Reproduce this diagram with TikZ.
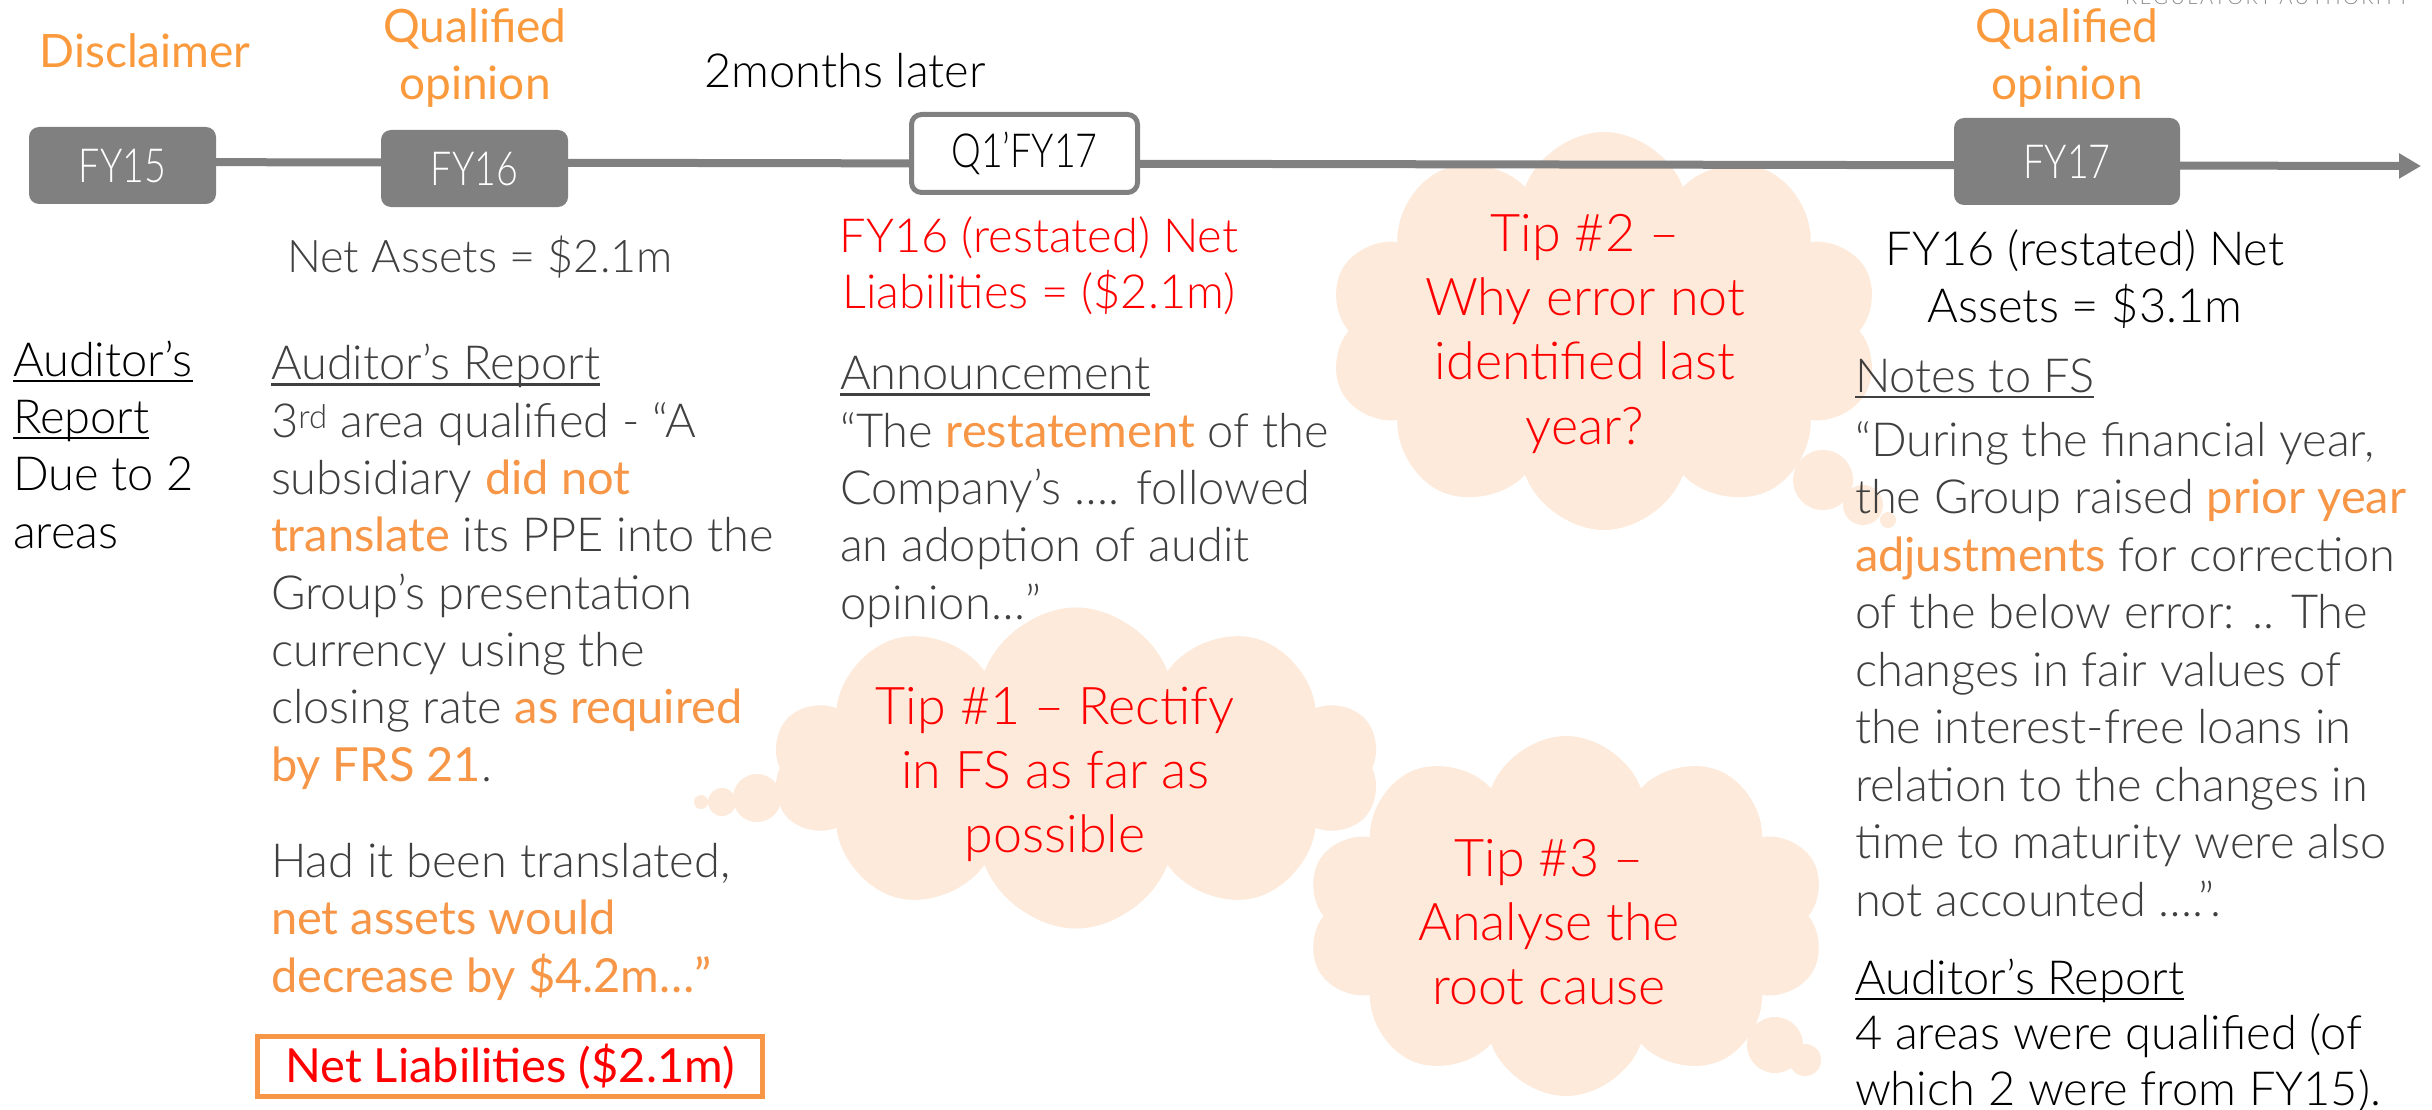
\documentclass[tikz,border=0pt]{standalone}
\usepackage{fontspec}
\setmainfont{Lato}[UprightFont={* Light}, BoldFont={*}]
\newfontfamily\condfont{Lato}[UprightFont={* Light}, FakeStretch=0.8]
\usetikzlibrary{shapes.symbols, arrows.meta}
\pgfdeclarelayer{background}
\pgfsetlayers{background,main}
\definecolor{tgrey}{HTML}{404040}
\definecolor{orng}{HTML}{F79646}
\definecolor{lorng}{HTML}{FA9A3C}
\definecolor{peach}{HTML}{FDEADA}
\definecolor{boxgrey}{HTML}{808080}
\definecolor{logogrey}{HTML}{8A8A8A}
\newcommand\myul[1]{\setbox0\hbox{#1}\rlap{\rule[-6pt]{\wd0}{2.5pt}}\box0}
\newcommand\hl[1]{{\bfseries\color{orng}#1}}
\tikzset{
  body/.style={font=\fontsize{47}{57.3}\selectfont, text=tgrey, inner sep=0pt, outer sep=0pt, align=left, anchor=base west},
  tiptext/.style={font=\fontsize{52}{63.8}\selectfont, text=red, align=center, inner sep=0pt, anchor=base},
  lbl/.style={font=\bfseries\fontsize{46}{57}\selectfont, text=lorng, align=center, inner sep=0pt, anchor=base},
  yearbox/.style={rounded corners=10pt, fill=boxgrey, minimum width=187pt, minimum height=77pt, text=white, font=\condfont\fontsize{47}{47}\selectfont, inner sep=0pt},
  cloudy/.style={cloud, cloud puffs=10, cloud puff arc=140, cloud ignores aspect, fill=peach, draw=none, inner sep=0pt},
  bub/.style={circle, fill=peach, draw=none, inner sep=0pt},
  tline/.style={draw=boxgrey, line width=8pt, -{Triangle[length=22pt,width=24pt]}}
}
\begin{document}
% note: multi-line nodes are placed at the baseline of their LAST line
\begin{tikzpicture}[x=1pt,y=-1pt]
\useasboundingbox (0,0) rectangle (2432,1110);
% year boxes
\node[yearbox] (fy15) at (122.5,165.5) {FY15};
\node[yearbox] (fy16) at (474.5,168.5) {FY16};
\node[yearbox, fill=white, draw=boxgrey, line width=5pt, minimum width=226pt, minimum height=78pt, text=black] (q1) at (1024.5,153.5) {Q1’FY17};
\node[yearbox, minimum width=226pt, minimum height=87pt] (fy17) at (2067,161.5) {FY17};
\coordinate (tend) at (2421,166);
\begin{pgfonlayer}{background}
\fill[white] (0,0) rectangle (2432,1110);
% clouds
\node[cloudy, minimum width=607pt, minimum height=321pt] (c1) at (1076,768) {};
\node[bub, minimum size=48pt] (c1a) at (757,798) {};
\node[bub, minimum size=28pt] (c1b) at (722,802) {};
\node[bub, minimum size=14pt] (c1c) at (701,802) {};
\node[cloudy, minimum width=551pt, minimum height=398pt] (c2) at (1604,331) {};
\node[bub, minimum size=60pt] (c2a) at (1823,480) {};
\node[bub, minimum size=40pt] (c2b) at (1863,505) {};
\node[bub, minimum size=16pt] (c2c) at (1888,520) {};
\node[cloudy, minimum width=519pt, minimum height=360pt] (c3) at (1566,916) {};
\node[bub, minimum size=56pt] (c3a) at (1775,1045) {};
\node[bub, minimum size=32pt] (c3b) at (1805,1060) {};
% timeline
\draw[tline] ([yshift=3.5pt]fy15.center) -- (tend);
\end{pgfonlayer}
% logo fragment
\node[font=\fontsize{20}{20}\selectfont\addfontfeature{LetterSpace=12}, text=logogrey, anchor=base west, inner sep=0pt] (logo) at (2125,5) {REGULATORY AUTHORITY};
% timeline labels
\node[lbl] (disc) at (145,68) {Disclaimer};
\node[lbl] (qo16) at (475,100) {Qualified\\opinion};
\node[body, anchor=base, text=black] (later) at (845,88) {2months later};
\node[lbl] (qo17) at (2067,100) {Qualified\\opinion};
% values under the timeline
\node[body, anchor=base, font=\fontsize{45}{56}\selectfont] (na16) at (480,272) {Net Assets = \$2.1m};
\node[body, anchor=base, align=center, text=red, font=\fontsize{47}{56}\selectfont] (nl16) at (1039,308) {FY16 (restated) Net\\Liabilities = (\$2.1m)};
\node[body, anchor=base, align=center, text=black, font=\fontsize{47}{57}\selectfont] (na17) at (2085,322) {FY16 (restated) Net\\Assets = \$3.1m};
% left column
\node[body, text=black] (ar15) at (13,548) {\myul{Auditor’s}\\\myul{Report}\\Due to 2\\areas};
% FY16 column
\node[body] (ar16) at (271,781) {\myul{Auditor’s Report}\\3\textsuperscript{rd} area qualified - “A\\subsidiary \hl{did not}\\\hl{translate} its PPE into the\\Group’s presentation\\currency using the\\closing rate \hl{as required}\\\hl{by FRS 21}.};
\node[body] (had) at (271,992) {Had it been translated,\\\hl{net assets would}\\\hl{decrease by \$4.2m…”}};
\node[draw=orng, line width=5pt, minimum width=505pt, minimum height=60pt, inner sep=0pt, text=red, font=\bfseries\fontsize{47}{47}\selectfont] (nlbox) at (510,1066.5) {Net Liabilities (\$2.1m)};
% announcement column
\node[body] (ann) at (840,619) {\myul{Announcement}\\“The \hl{restatement} of the\\Company’s …. followed\\an adoption of audit\\opinion…”};
% FY17 column
\node[body] (notes) at (1855,392) {\myul{Notes to FS}};
\node[body, font=\fontsize{47}{57.5}\selectfont] (notestext) at (1855,916) {“During the financial year,\\the Group raised \hl{prior year}\\\hl{adjustments} for correction\\of the below error: .. The\\changes in fair values of\\the interest-free loans in\\relation to the changes in\\time to maturity were also\\not accounted ….”.};
\node[body, text=black] (ar17) at (1855,994) {\myul{Auditor’s Report}};
\node[body, text=black, font=\fontsize{47}{56}\selectfont] (ar17text) at (1855,1105) {4 areas were qualified (of\\which 2 were from FY15).};
% tips
\node[tiptext] (tip1) at (1055,852) {Tip \#1 – Rectify\\in FS as far as\\possible};
\node[tiptext, font=\fontsize{52}{64.3}\selectfont] (tip2) at (1585,444) {Tip \#2 –\\Why error not\\identified last\\year?};
\node[tiptext] (tip3) at (1549,1004) {Tip \#3 –\\Analyse the\\root cause};
\end{tikzpicture}
\end{document}
